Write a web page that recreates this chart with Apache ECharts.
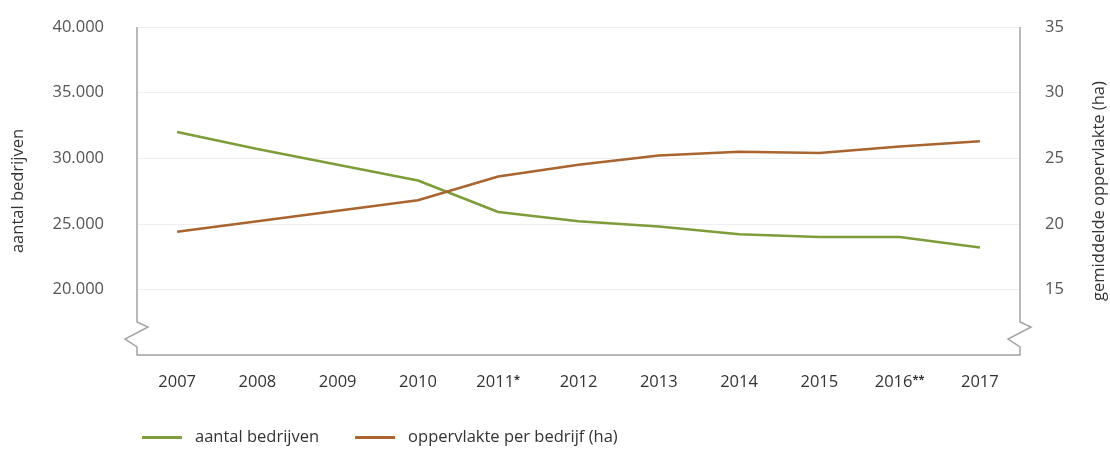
<!DOCTYPE html>
<html><head><meta charset="utf-8">
<script src="https://cdn.jsdelivr.net/npm/echarts@6/dist/echarts.min.js"></script>
<style>html,body{margin:0;padding:0;background:#fff}#c{width:1110px;height:457px}</style>
</head><body><div id="c"></div>
<script>
const years = ['2007','2008','2009','2010','2011*','2012','2013','2014','2015','2016**','2017'];
const aantalBedrijven = [32000,30700,29500,28300,25900,25200,24800,24200,24000,24000,23200];
const oppervlaktePerBedrijf = [19.4,20.2,21.0,21.8,23.6,24.5,25.2,25.5,25.4,25.9,26.3];
const seriesNames = ['aantal bedrijven','oppervlakte per bedrijf (ha)'];
const leftAxisName = 'aantal bedrijven';
const rightAxisName = 'gemiddelde oppervlakte (ha)';
const leftRange = [15000, 40000, 5000];
const rightRange = [10, 35, 5];

const GREEN = '#7d9c3a', BROWN = '#a9642f', AXIS = '#a3a3a3';
const FONT = 'Open Sans';
const FS = 16.5;
const W = 1110, H = 457;
const G = {left: 137, right: 90, top: 27, bottom: 102};

const chart = echarts.init(document.getElementById('c'), null, {renderer: 'canvas'});
const fmt = v => String(v).replace(/\B(?=(\d{3})+(?!\d))/g, '.');

chart.setOption({
  animation: false,
  textStyle: {fontFamily: FONT},
  grid: {left: G.left, right: G.right, top: G.top, bottom: G.bottom, containLabel: false, outerBoundsMode: 'none'},
  legend: {
    left: 137, top: 424, itemWidth: 40, itemHeight: 3, itemGap: 36, icon: 'rect',
    textStyle: {fontFamily: FONT, fontSize: FS, color: '#333', padding: [0, 0, 0, 8]},
    data: seriesNames
  },
  xAxis: {
    type: 'category', data: years, boundaryGap: true,
    axisLine: {show: true, lineStyle: {color: AXIS, width: 1.5}},
    axisTick: {show: false},
    splitLine: {show: false},
    axisLabel: {
      interval: 0, margin: 19, fontSize: FS, color: '#333', fontFamily: FONT,
      formatter: v => {
        const m = v.match(/^(\d+)(\*+)$/);
        return m ? m[1] + '{s|' + m[2] + '}' : v;
      },
      rich: {s: {fontSize: 11, color: '#333', verticalAlign: 'top', padding: [0, 0, 6, 0], fontWeight: 'bold'}}
    }
  },
  yAxis: [{
    type: 'value', min: leftRange[0], max: leftRange[1], interval: leftRange[2],
    name: leftAxisName, nameLocation: 'middle', nameGap: 110, nameRotate: 90,
    nameTextStyle: {fontSize: FS, color: '#333', fontFamily: FONT},
    axisLine: {show: false}, axisTick: {show: false},
    axisLabel: {showMinLabel: false, margin: 33, fontSize: FS, color: '#555', fontFamily: FONT, formatter: fmt},
    splitLine: {show: true, lineStyle: {color: '#efefef', width: 1}}
  }, {
    type: 'value', min: rightRange[0], max: rightRange[1], interval: rightRange[2],
    position: 'right',
    name: rightAxisName, nameLocation: 'middle', nameGap: 71, nameRotate: 90,
    nameTextStyle: {fontSize: FS, color: '#333', fontFamily: FONT},
    axisLine: {show: false}, axisTick: {show: false},
    axisLabel: {showMinLabel: false, margin: 25, fontSize: FS, color: '#555', fontFamily: FONT},
    splitLine: {show: false}
  }],
  series: [{
    name: seriesNames[0], type: 'line', yAxisIndex: 0, data: aantalBedrijven,
    symbol: 'none', smooth: false, color: GREEN,
    lineStyle: {width: 2.5, color: GREEN}
  }, {
    name: seriesNames[1], type: 'line', yAxisIndex: 1, data: oppervlaktePerBedrijf,
    symbol: 'none', smooth: false, color: BROWN,
    lineStyle: {width: 2.5, color: BROWN}
  }]
});

// decorative y-axis lines with break zigzag near the bottom
function axisWithBreak(x, dir) {
  const top = G.top, bottom = H - G.bottom;
  const y0 = bottom - 33;
  return {
    type: 'polyline', silent: true,
    shape: {points: [[x, top], [x, y0], [x + 11 * dir, y0 + 5], [x - 12 * dir, y0 + 17], [x, y0 + 25], [x, bottom]]},
    style: {stroke: AXIS, lineWidth: 1.5, fill: null}
  };
}
chart.setOption({
  graphic: [axisWithBreak(G.left, 1), axisWithBreak(W - G.right, 1)]
});
</script></body></html>
